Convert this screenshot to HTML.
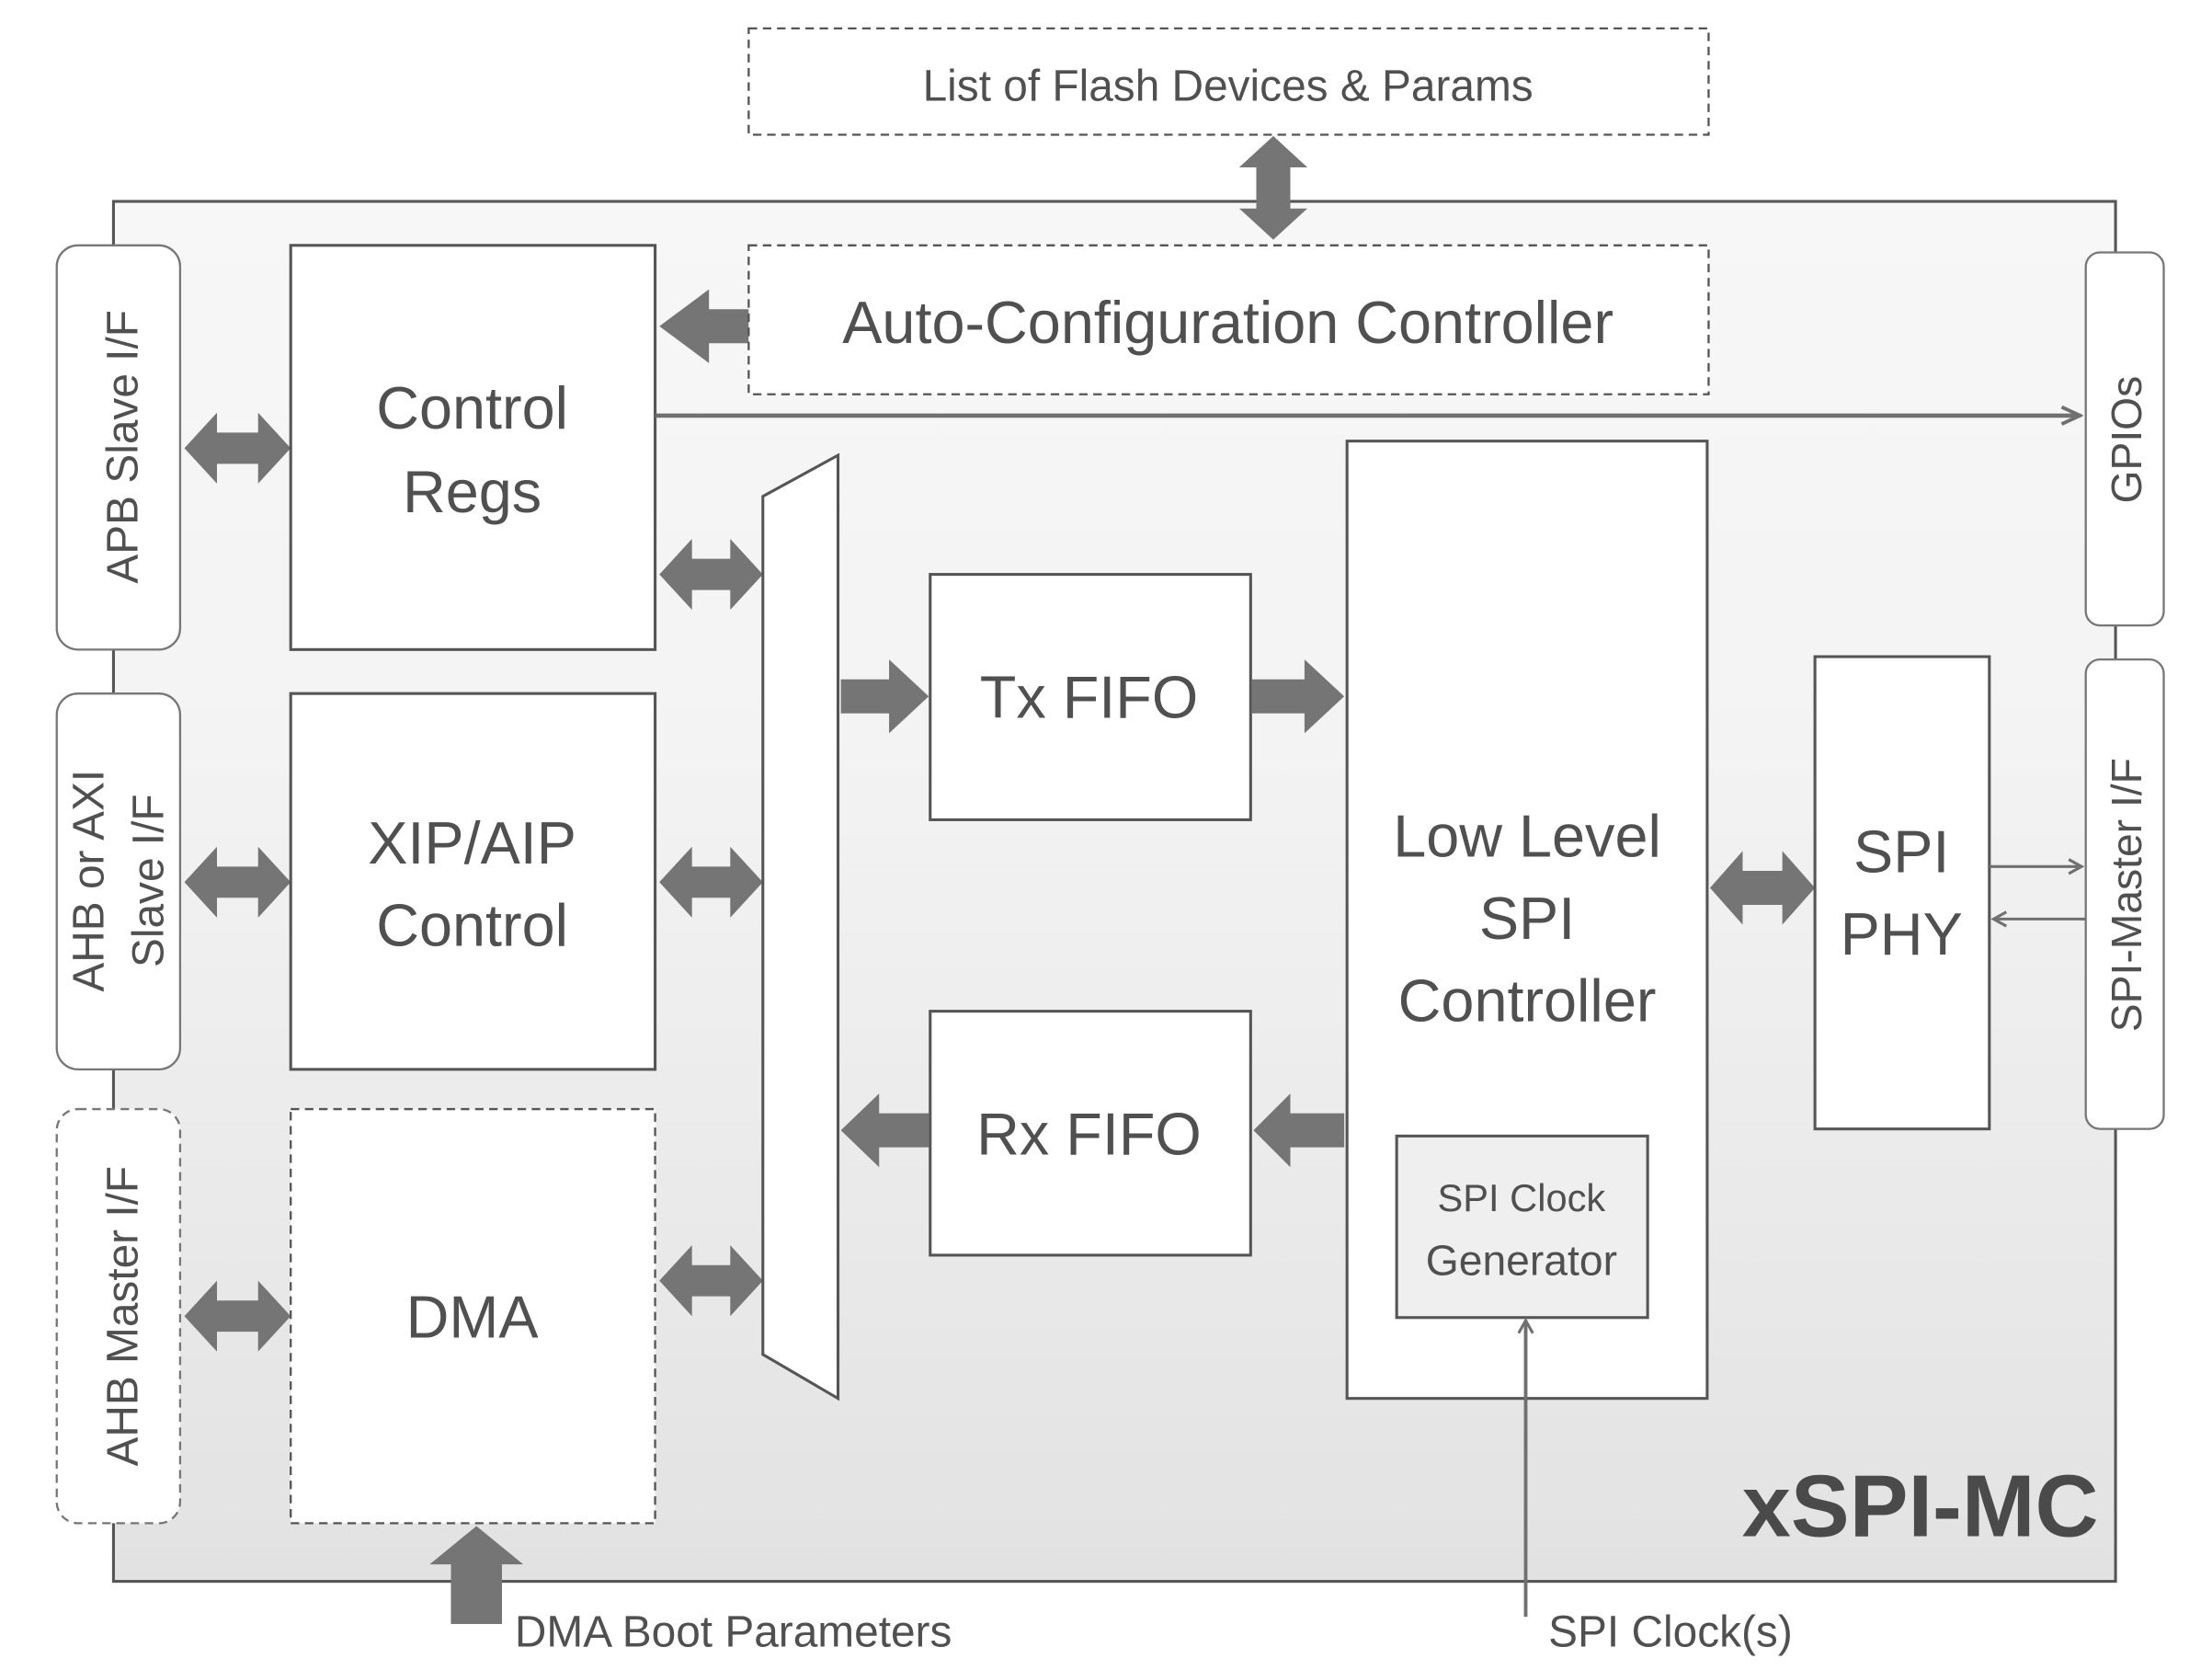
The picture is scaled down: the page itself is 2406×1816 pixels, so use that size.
<!DOCTYPE html>
<html><head><meta charset="utf-8"><style>html,body{margin:0;padding:0;background:#fff}svg{display:block}text{font-family:"Liberation Sans",sans-serif;fill:#505050}</style></head>
<body>
<svg width="2406" height="1816" viewBox="0 0 1560 1177.5" xmlns="http://www.w3.org/2000/svg">
<defs>
<linearGradient id="g" x1="0" y1="0" x2="0" y2="1"><stop offset="0" stop-color="#f7f7f7"/><stop offset="0.4" stop-color="#f3f3f3"/><stop offset="1" stop-color="#e2e2e2"/></linearGradient>
<marker id="ah" markerWidth="12" markerHeight="12" refX="10" refY="6" orient="auto" markerUnits="userSpaceOnUse"><path d="M1,1 L10,6 L1,11" fill="none" stroke="#707070" stroke-width="2"/></marker>
<marker id="ah2" markerWidth="16" markerHeight="16" refX="14" refY="8" orient="auto" markerUnits="userSpaceOnUse"><path d="M1,2 L14,8 L1,14" fill="none" stroke="#707070" stroke-width="2.5"/></marker>
</defs>
<g fill="#757575">
<!-- vertical double arrow top -->
<polygon points="898,96 922,118 910,118 910,147 922,147 898,169 874,147 886,147 886,118 874,118"/>
<!-- auto-config -> control regs -->
<polygon points="528,218 500,218 500,204 465,230 500,256 500,242 528,242"/>
<!-- horizontal double arrows -->
<polygon points="130,316 153,291 153,305 182,305 182,291 205,316 182,341 182,327 153,327 153,341"/>
<polygon points="130,622 153,597 153,611 182,611 182,597 205,622 182,647 182,633 153,633 153,647"/>
<polygon points="130,928 153,903 153,917 182,917 182,903 205,928 182,953 182,939 153,939 153,953"/>
<polygon points="465,405 488,380 488,394 515,394 515,380 538,405 515,430 515,416 488,416 488,430"/>
<polygon points="465,622 488,597 488,611 515,611 515,597 538,622 515,647 515,633 488,633 488,647"/>
<polygon points="465,903 488,878 488,892 515,892 515,878 538,903 515,928 515,914 488,914 488,928"/>
<polygon points="1206,626 1229,600 1229,614 1257,614 1257,600 1280,626 1257,652 1257,638 1229,638 1229,652"/>
<!-- single fat arrows -->
<polygon points="593,479 627,479 627,465 655,491 627,517 627,503 593,503"/>
<polygon points="883,479 920,479 920,465 948,491 920,517 920,503 883,503"/>
<polygon points="948,785 910,785 910,771 884,797 910,823 910,809 948,809"/>
<polygon points="655,785 620,785 620,771 593,797 620,823 620,809 655,809"/>
<polygon points="318,1145 318,1103 303,1103 336,1076 369,1103 354,1103 354,1145"/>
</g>
<!-- outer box -->
<rect x="80" y="142" width="1412" height="973" fill="url(#g)" stroke="#555" stroke-width="2"/>
<!-- redraw arrows overlapping outer box -->
<g fill="#757575">
<polygon points="898,96 922,118 910,118 910,147 922,147 898,169 874,147 886,147 886,118 874,118"/>
<polygon points="528,218 500,218 500,204 465,230 500,256 500,242 528,242"/>
<polygon points="130,316 153,291 153,305 182,305 182,291 205,316 182,341 182,327 153,327 153,341"/>
<polygon points="130,622 153,597 153,611 182,611 182,597 205,622 182,647 182,633 153,633 153,647"/>
<polygon points="130,928 153,903 153,917 182,917 182,903 205,928 182,953 182,939 153,939 153,953"/>
<polygon points="465,405 488,380 488,394 515,394 515,380 538,405 515,430 515,416 488,416 488,430"/>
<polygon points="465,622 488,597 488,611 515,611 515,597 538,622 515,647 515,633 488,633 488,647"/>
<polygon points="465,903 488,878 488,892 515,892 515,878 538,903 515,928 515,914 488,914 488,928"/>
<polygon points="1206,626 1229,600 1229,614 1257,614 1257,600 1280,626 1257,652 1257,638 1229,638 1229,652"/>
<polygon points="593,479 627,479 627,465 655,491 627,517 627,503 593,503"/>
<polygon points="883,479 920,479 920,465 948,491 920,517 920,503 883,503"/>
<polygon points="948,785 910,785 910,771 884,797 910,823 910,809 948,809"/>
<polygon points="655,785 620,785 620,771 593,797 620,823 620,809 655,809"/>
<polygon points="318,1145 318,1103 303,1103 336,1076 369,1103 354,1103 354,1145"/>
</g>
<!-- top list box -->
<rect x="528" y="20" width="677" height="75" fill="#fff" stroke="#555" stroke-width="1.5" stroke-dasharray="6,4"/>
<text x="866" y="71" font-size="31" text-anchor="middle">List of Flash Devices &amp; Params</text>
<!-- auto config -->
<rect x="528" y="173" width="677" height="105" fill="#fff" stroke="#555" stroke-width="1.5" stroke-dasharray="6,4"/>
<text x="866" y="242" font-size="42" text-anchor="middle">Auto-Configuration Controller</text>
<!-- side interfaces -->
<rect x="40" y="173" width="87" height="285" rx="15" fill="#fff" stroke="#777" stroke-width="1.5"/>
<text transform="translate(97,315) rotate(-90)" font-size="31" text-anchor="middle">APB Slave I/F</text>
<rect x="40" y="489" width="87" height="265" rx="15" fill="#fff" stroke="#777" stroke-width="1.5"/>
<text transform="translate(73,621) rotate(-90)" font-size="31" text-anchor="middle">AHB or AXI</text>
<text transform="translate(115,621) rotate(-90)" font-size="31" text-anchor="middle">Slave I/F</text>
<rect x="40" y="782" width="87" height="292" rx="15" fill="#fff" stroke="#777" stroke-width="1.5" stroke-dasharray="6,4"/>
<text transform="translate(97,928) rotate(-90)" font-size="31" text-anchor="middle">AHB Master I/F</text>
<rect x="1471" y="178" width="55" height="263" rx="10" fill="#fff" stroke="#777" stroke-width="1.5"/>
<text transform="translate(1510,310) rotate(-90)" font-size="30" text-anchor="middle">GPIOs</text>
<rect x="1471" y="465" width="55" height="331" rx="10" fill="#fff" stroke="#777" stroke-width="1.5"/>
<text transform="translate(1510,631) rotate(-90)" font-size="30" text-anchor="middle">SPI-Master I/F</text>
<!-- main blocks -->
<rect x="205" y="173" width="257" height="285" fill="#fff" stroke="#555" stroke-width="2"/>
<text x="333" y="302" font-size="42" text-anchor="middle">Control</text>
<text x="333" y="361" font-size="42" text-anchor="middle">Regs</text>
<line x1="462" y1="293" x2="1467" y2="293" stroke="#707070" stroke-width="3" marker-end="url(#ah2)"/>
<rect x="205" y="489" width="257" height="265" fill="#fff" stroke="#555" stroke-width="2"/>
<text x="333" y="609" font-size="42" text-anchor="middle">XIP/AIP</text>
<text x="333" y="667" font-size="42" text-anchor="middle">Control</text>
<rect x="205" y="782" width="257" height="292" fill="#fff" stroke="#555" stroke-width="1.5" stroke-dasharray="6,4"/>
<text x="333" y="943" font-size="42" text-anchor="middle">DMA</text>
<polygon points="538,350 591,321 591,986 538,955" fill="#fff" stroke="#555" stroke-width="2"/>
<rect x="656" y="405" width="226" height="173" fill="#fff" stroke="#555" stroke-width="2"/>
<text x="768" y="506" font-size="42" text-anchor="middle">Tx FIFO</text>
<rect x="656" y="713" width="226" height="172" fill="#fff" stroke="#555" stroke-width="2"/>
<text x="768" y="814" font-size="42" text-anchor="middle">Rx FIFO</text>
<rect x="950" y="311" width="254" height="675" fill="#fff" stroke="#555" stroke-width="2"/>
<text x="1077" y="604" font-size="42" text-anchor="middle">Low Level</text>
<text x="1077" y="662" font-size="42" text-anchor="middle">SPI</text>
<text x="1077" y="720" font-size="42" text-anchor="middle">Controller</text>
<rect x="985" y="801" width="177" height="128" fill="#efefef" stroke="#555" stroke-width="2"/>
<text x="1073" y="854" font-size="27" text-anchor="middle">SPI Clock</text>
<text x="1073" y="899" font-size="30" text-anchor="middle">Generator</text>
<line x1="1076" y1="1140" x2="1076" y2="931" stroke="#707070" stroke-width="2.5" marker-end="url(#ah)"/>
<rect x="1280" y="463" width="123" height="333" fill="#fff" stroke="#555" stroke-width="2"/>
<text x="1341" y="615" font-size="42" text-anchor="middle">SPI</text>
<text x="1341" y="673" font-size="42" text-anchor="middle">PHY</text>
<line x1="1403" y1="611" x2="1468" y2="611" stroke="#707070" stroke-width="2" marker-end="url(#ah)"/>
<line x1="1471" y1="648" x2="1406" y2="648" stroke="#707070" stroke-width="2" marker-end="url(#ah)"/>
<text x="1480" y="1083" font-size="62" font-weight="bold" text-anchor="end" style="fill:#4a4a4a">xSPI-MC</text>
<text x="363" y="1161" font-size="31">DMA Boot Parameters</text>
<text x="1092" y="1161" font-size="31">SPI Clock(s)</text>
</svg>
</body></html>
